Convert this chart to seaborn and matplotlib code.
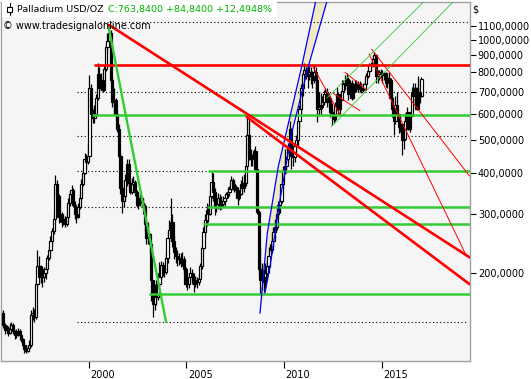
import numpy as np
import pandas as pd
import matplotlib
matplotlib.use("Agg")
import matplotlib.pyplot as plt
import matplotlib.transforms as mtransforms
from matplotlib.patches import Rectangle
from matplotlib.lines import Line2D
import seaborn as sns

# ---------------- data (monthly OHLC, Aug 1995 .. Jan 2017) ----------------
start_month = "1995-08-01"
first_open = 152.0

close = [
    140, 135, 137, 132, 136,
    140, 134, 130, 132, 134, 130, 127, 122, 118, 117, 119, 122,
    150, 152, 148, 185, 210, 195, 205, 195, 200, 205, 222, 235,
    250, 268, 290, 370, 340, 295, 300, 285, 290, 280, 295, 325,
    345, 355, 320, 300, 295, 315, 335, 370, 400, 440, 430, 450,
    720, 600, 585, 600, 670, 790, 720, 760, 710, 820, 950, 990,
    1050, 760, 650, 660, 600, 540, 450, 360, 330, 340, 380, 425,
    372, 350, 370, 375, 350, 320, 330, 335, 325, 318, 280, 255,
    262, 245, 190, 162, 172, 170, 185, 195, 212, 206, 202, 222,
    255, 270, 285, 250, 232, 225, 220, 222, 215, 220, 205, 185,
    185, 195, 200, 195, 185, 190, 188, 192, 210, 238, 265, 288,
    310, 300, 340, 375, 350, 315, 322, 335, 318, 322, 330, 335,
    345, 350, 358, 380, 370, 362, 355, 335, 345, 370, 360, 372,
    420, 520, 450, 440, 445, 465, 410, 305, 205, 190, 195, 188,
    200, 210, 225, 235, 250, 265, 275, 300, 320, 330, 370, 405,
    420, 440, 480, 540, 450, 445, 480, 500, 570, 620, 720, 790,
    815, 790, 780, 800, 780, 760, 800, 760, 620, 640, 630, 650,
    690, 700, 650, 670, 610, 600, 580, 640, 690, 620, 660, 705,
    740, 735, 765, 690, 745, 670, 730, 740, 715, 740, 720, 710,
    715, 740, 780, 805, 840, 845, 875, 900, 780, 790, 800, 795,
    785, 795, 745, 770, 760, 670, 620, 570, 640, 600, 550, 560,
    500, 505, 570, 610, 540, 590, 700, 680, 720, 620, 700, 679,
    763.84,
]
high = [
    155, 142, 140, 139, 142,
    143, 142, 135, 136, 137, 136, 131, 128, 124, 121, 122, 126,
    155, 158, 156, 192, 234, 225, 212, 210, 208, 210, 226, 240,
    258, 272, 300, 394, 380, 345, 312, 305, 300, 296, 305, 335,
    352, 367, 360, 330, 310, 325, 345, 382, 410, 458, 455, 490,
    785, 740, 620, 640, 690, 853, 830, 796, 780, 840, 978, 1050,
    1100, 1070, 775, 720, 670, 610, 560, 460, 380, 355, 395, 440,
    440, 380, 385, 390, 380, 355, 345, 345, 340, 335, 322, 285,
    285, 263, 250, 190, 185, 190, 200, 216, 218, 216, 212, 230,
    265, 288, 335, 300, 260, 240, 235, 229, 230, 232, 225, 209,
    192, 200, 208, 205, 200, 196, 194, 198, 215, 242, 275, 300,
    324, 320, 355, 402, 400, 360, 340, 347, 345, 340, 340, 342,
    350, 362, 365, 391, 385, 380, 368, 362, 352, 380, 392, 395,
    430, 590, 585, 472, 455, 472, 480, 410, 310, 240, 215, 205,
    215, 219, 239, 245, 263, 275, 290, 316, 330, 347, 380, 420,
    470, 450, 490, 570, 545, 480, 490, 520, 575, 640, 740, 800,
    853, 830, 835, 841, 830, 810, 840, 830, 770, 700, 693, 680,
    710, 720, 720, 693, 680, 647, 620, 650, 723, 700, 680, 759,
    760, 785, 796, 775, 760, 760, 745, 759, 760, 755, 755, 742,
    745, 760, 796, 820, 853, 860, 901, 920, 905, 813, 813, 820,
    813, 800, 800, 790, 800, 770, 708, 640, 680, 700, 600, 588,
    560, 540, 604, 630, 610, 600, 723, 742, 742, 725, 780, 760,
    775,
]
low = [
    137, 131, 132, 129, 131,
    133, 131, 127, 128, 129, 126, 124, 119, 115, 115, 116, 117,
    120, 145, 143, 146, 182, 185, 187, 182, 188, 192, 200, 219,
    230, 245, 262, 285, 325, 282, 285, 275, 278, 275, 276, 290,
    318, 335, 315, 290, 282, 292, 312, 332, 365, 395, 410, 425,
    445, 580, 563, 565, 590, 660, 700, 710, 698, 705, 810, 920,
    960, 740, 630, 600, 575, 530, 440, 345, 303, 315, 330, 365,
    360, 345, 345, 355, 340, 316, 312, 318, 315, 300, 265, 245,
    245, 230, 165, 148, 155, 160, 166, 180, 190, 196, 194, 198,
    215, 245, 255, 240, 220, 215, 210, 212, 208, 210, 200, 181,
    178, 180, 190, 186, 176, 182, 180, 184, 190, 205, 232, 255,
    276, 285, 298, 335, 330, 298, 305, 312, 309, 312, 315, 318,
    330, 335, 340, 355, 355, 350, 345, 320, 331, 342, 345, 350,
    365, 410, 437, 420, 420, 435, 405, 300, 195, 172, 178, 175,
    180, 190, 200, 209, 229, 240, 255, 270, 295, 303, 325, 360,
    395, 400, 430, 470, 410, 420, 430, 460, 480, 545, 600, 680,
    760, 765, 720, 760, 740, 720, 742, 700, 568, 590, 600, 620,
    640, 660, 630, 630, 588, 556, 565, 570, 630, 600, 600, 660,
    700, 710, 720, 660, 690, 660, 665, 700, 700, 700, 700, 693,
    700, 710, 730, 770, 796, 820, 830, 860, 742, 742, 760, 770,
    742, 760, 723, 720, 740, 660, 588, 519, 560, 590, 526, 530,
    452, 470, 500, 555, 537, 530, 590, 640, 640, 615, 640, 645,
    675,
]

# axis ticks
ytick_values = [200, 300, 400, 500, 600, 700, 800, 900, 1000, 1100]
xtick_years = [2000, 2005, 2010, 2015]

# horizontal levels (price, start year)
dotted_levels = [1135, 696, 515, 404, 316, 142.8]
dotted_starts = [2000.58, 1999.40, 1999.40, 1999.40, 1999.40, 1999.40]
green_levels = [596, 404, 316, 279.6, 172.6]
green_starts = [2000.17, 2006.11, 2006.04, 2005.85, 2003.09]
red_level = 844
red_start = 2000.27

# trend lines: (t0, p0, t1, p1)
thick_green_lines = [(2001.00, 1109, 2003.96, 142.8)]
thick_red_lines = [(2001.05, 1109, 2019.50, 222.9),
                   (2008.09, 588, 2019.50, 185.2)]
thin_red_lines = [(2011.434, 841.4, 2012.867, 597.7),
                  (2013.123, 800.1, 2014.234, 707.9),
                  (2012.524, 691.9, 2013.891, 613.6),
                  (2014.491, 937.8, 2019.50, 390.9),
                  (2014.352, 907.8, 2019.319, 226.4)]
thin_green_lines = [(2012.203, 669.9, 2017.245, 1318),
                    (2012.407, 548.3, 2018.756, 1318)]

# blue regression channel
blue1_t = [2008.771, 2009.145, 2009.708, 2010.307, 2010.906, 2011.638]
blue1_p = [151.4, 263.0, 416.9, 588.8, 831.6, 1318]
blue2_t = [2009.027, 2009.283, 2009.795, 2010.394, 2011.244, 2012.217]
blue2_p = [174.1, 208.9, 331.1, 524.8, 831.6, 1318]

title_black = "Palladium USD/OZ"
title_green = "C:763,8400 +84,8400 +12,4948%"
watermark = "\u00a9 www.tradesignalonline.com"

# ---------------- figure ----------------
sns.set_style("white")
plt.rcParams['font.family'] = ['DejaVu Sans']

W, H = 531, 379
fig = plt.figure(figsize=(W / 100, H / 100), dpi=100)
fig.patch.set_facecolor('white')
ax = fig.add_axes([1 / W, (H - 361) / H, (469.5 - 1) / W, (361 - 1.5) / H])
ax.set_facecolor('#f5f5f5')
ax.set_yscale('log')
XMIN, XMAX = 1995.51, 2019.50
ax.set_xlim(XMIN, XMAX)
ax.set_ylim(108.9, 1304.7)

close_a = np.array(close, float)
high_a = np.array(high, float)
low_a = np.array(low, float)
dates = pd.date_range(start_month, periods=len(close_a), freq='MS')
t = dates.year.values + (dates.month.values - 0.5) / 12.0
opens = np.concatenate([[first_open], close_a[:-1]])
high_a = np.maximum(high_a, np.maximum(opens, close_a))
low_a = np.minimum(low_a, np.minimum(opens, close_a))

# blue channel fill
ax.fill(list(blue1_t) + list(blue2_t[::-1]), list(blue1_p) + list(blue2_p[::-1]),
        color='#efe9c8', zorder=1, lw=0)

# dotted levels
for lv, st in zip(dotted_levels, dotted_starts):
    ax.hlines(lv, st, XMAX - 0.1, colors='black', linestyles=(0, (1, 2.2)),
              lw=0.8, zorder=1.5)

# candles
ax.vlines(t, low_a, high_a, color='black', lw=0.9, zorder=3)
bot = np.minimum(opens, close_a)
top = np.maximum(np.maximum(opens, close_a), bot * 1.008)
up = close_a >= opens
ax.bar(t[up], (top - bot)[up], bottom=bot[up], width=0.115, color='white',
       edgecolor='black', linewidth=0.85, zorder=4)
ax.bar(t[~up], (top - bot)[~up], bottom=bot[~up], width=0.115, color='black',
       edgecolor='black', linewidth=0.85, zorder=4)

# horizontal support/resistance
GREEN = '#33cc33'
RED = '#ff0000'
for lv, st in zip(green_levels, green_starts):
    ax.hlines(lv, st, XMAX, colors=GREEN, lw=1.8, zorder=5)
ax.hlines(red_level, red_start, XMAX, colors=RED, lw=1.9, zorder=5)

# blue curves
sns.lineplot(x=blue1_t, y=blue1_p, color='#0000ff', lw=0.9, ax=ax, zorder=5)
sns.lineplot(x=blue2_t, y=blue2_p, color='#0000ff', lw=0.9, ax=ax, zorder=5)

def seg(spec, color, lw):
    t0, p0, t1, p1 = spec
    sns.lineplot(x=[t0, t1], y=[p0, p1], color=color, lw=lw, ax=ax, zorder=6)

for s in thick_green_lines:
    seg(s, GREEN, 1.7)
for s in thick_red_lines:
    seg(s, RED, 1.9)
for s in thin_red_lines:
    seg(s, RED, 0.7)
for s in thin_green_lines:
    seg(s, GREEN, 0.6)

# axes styling
for sp in ax.spines.values():
    sp.set_color('#a0a0a0')
    sp.set_linewidth(1.0)
ax.yaxis.tick_right()
ax.set_yticks(ytick_values)
ax.set_yticklabels([f"{v},0000" for v in ytick_values])
ax.yaxis.set_minor_locator(matplotlib.ticker.NullLocator())
ax.tick_params(axis='y', which='major', right=True, left=False, length=4.5,
               width=0.8, color='black', pad=1.5, labelsize=7, labelcolor='black')
ax.set_xticks(xtick_years)
ax.set_xticklabels([str(y) for y in xtick_years])
ax.tick_params(axis='x', which='major', bottom=True, length=5, width=0.8,
               color='black', pad=1.5, labelsize=7, labelcolor='black')
off = mtransforms.ScaledTranslation(1.5 / 100, 0, fig.dpi_scale_trans)
for lab in ax.get_xticklabels():
    lab.set_horizontalalignment('left')
    lab.set_transform(lab.get_transform() + off)
ax.set_xlabel('')
ax.set_ylabel('')
ax.grid(False)

# header
def fx(x):
    return x / W

def fy(y):
    return 1 - y / H

fig.add_artist(Rectangle((fx(2), fy(16.5)), fx(275), 15 / H,
                         transform=fig.transFigure, facecolor='white',
                         edgecolor='none', zorder=10))
fig.add_artist(Line2D([fx(9.7), fx(9.7)], [fy(3.3), fy(15)], color='black',
                      lw=0.8, transform=fig.transFigure, zorder=11))
fig.add_artist(Rectangle((fx(7.3), fy(12.3)), 4.7 / W, 5.6 / H,
                         transform=fig.transFigure, facecolor='white',
                         edgecolor='black', lw=0.8, zorder=12))
tb = fig.text(fx(17), fy(9.5), title_black, fontsize=6.8, color='black',
              va='center', ha='left', zorder=13)
fig.canvas.draw()
bb = tb.get_window_extent(renderer=fig.canvas.get_renderer())
gx = bb.x1 + 4
fig.text(gx / W, fy(9.5), title_green, fontsize=6.8,
         color='#00b400', va='center', ha='left', zorder=13)
fig.text(fx(3), fy(26), watermark, fontsize=7,
         color='black', va='center', ha='left', zorder=13)
fig.text(fx(472), fy(10), "$", fontsize=7, color='black', va='center', ha='left')

fig.savefig("out.png", dpi=100, facecolor='white')
